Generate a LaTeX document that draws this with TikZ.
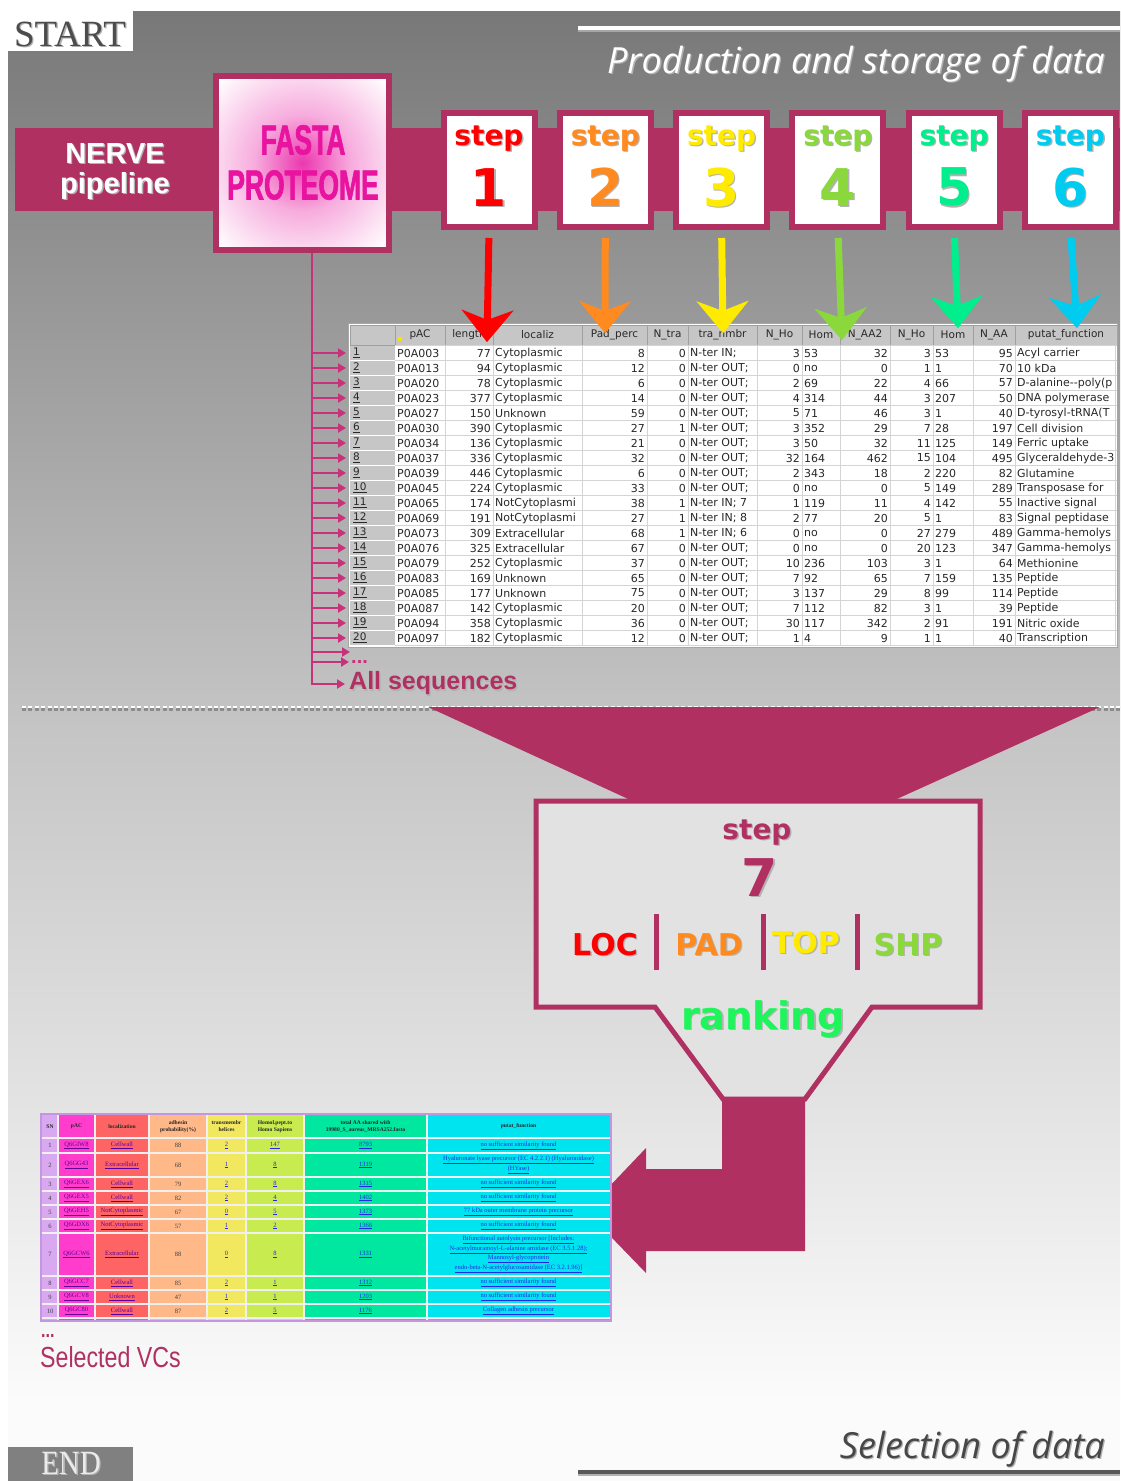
\documentclass[tikz,border=0pt]{standalone}
\usepackage{fontspec}
\setmainfont{DejaVu Sans}
\newfontfamily\tabfont{DejaVu Sans}
\newfontfamily\headfont{Liberation Sans}
\newfontfamily\impactfont[FakeStretch=0.63,FakeBold=1.5]{Liberation Sans}
\newfontfamily\narrowfont[FakeStretch=0.8]{Liberation Sans}
\newfontfamily\italfont{Open Sans}
\newfontfamily\startfont{Liberation Serif}
\newfontfamily\endfont[FakeStretch=0.85]{Liberation Serif}
\newfontfamily\vcfont{Liberation Serif}
\usepackage{xcolor}
\usetikzlibrary{arrows.meta, positioning, calc}

\definecolor{nerve}{RGB}{176,48,98}
\definecolor{spinepink}{RGB}{200,50,122}
\definecolor{fastapink}{RGB}{232,20,160}
\definecolor{stepA}{RGB}{255,0,0}
\definecolor{stepB}{RGB}{255,138,32}
\definecolor{stepC}{RGB}{255,235,0}
\definecolor{stepD}{RGB}{138,216,60}
\definecolor{stepE}{RGB}{0,238,140}
\definecolor{stepF}{RGB}{0,204,240}
\definecolor{rankgreen}{RGB}{30,245,90}
\definecolor{bgtop}{RGB}{120,120,120}
\definecolor{bgmid}{RGB}{195,195,195}
\definecolor{bgbot}{RGB}{251,251,251}
\definecolor{boxgray}{RGB}{226,226,226}
\definecolor{hdrgray}{RGB}{198,198,198}
\definecolor{gridgray}{RGB}{212,212,212}
\definecolor{txtgray}{RGB}{40,40,40}
\definecolor{vcsn}{RGB}{216,168,240}
\definecolor{vcpac}{RGB}{255,60,204}
\definecolor{vcloc}{RGB}{255,100,100}
\definecolor{vcadh}{RGB}{255,184,136}
\definecolor{vchel}{RGB}{242,232,96}
\definecolor{vchum}{RGB}{200,236,80}
\definecolor{vctot}{RGB}{0,232,160}
\definecolor{vcfun}{RGB}{0,228,240}
\definecolor{vclink}{RGB}{40,40,230}
\definecolor{vcedge}{RGB}{196,150,226}
\colorlet{glowA}{fastapink!85!white}
\colorlet{glowB}{fastapink!35!white}
\pgfdeclareradialshading{fastaglow}{\pgfpointorigin}{color(0bp)=(glowA); color(14bp)=(glowB); color(34bp)=(white); color(50bp)=(white)}

\newcommand\shd[1]{\rlap{\kern1.3pt\raisebox{-1.3pt}{\color{black!30}#1}}#1}
\newcommand\lnk[1]{\underline{#1}}

\tikzset{
  band/.style={fill=nerve},
  stepbox/.style={draw=nerve, line width=6pt, fill=white,
    minimum width=91pt, minimum height=114pt, inner sep=0pt},
  fastabox/.style={draw=nerve, line width=6pt, shade, shading=fastaglow,
    minimum width=173pt, minimum height=174pt, inner sep=0pt},
  steptext/.style={font=\fontsize{28}{28}\selectfont\bfseries, inner sep=0pt},
  stepnum/.style={font=\fontsize{52}{52}\selectfont\bfseries, inner sep=0pt},
  steparrow/.style={line width=7pt, shorten <=8pt,
    -{Stealth[length=32pt, width=52pt, inset=10pt, line width=0.1pt]}},
  rowarrow/.style={draw=spinepink, line width=2.2pt, shorten >=4pt,
    -{Triangle[length=8pt, width=9pt]}},
  hdrcell/.style={fill=hdrgray, draw=gray!75, line width=0.6pt, inner sep=0pt,
    minimum height=20pt, text=txtgray, font=\tabfont\fontsize{10.5}{10.5}\selectfont},
  rownum/.style={anchor=west, fill=hdrgray, text width=39pt, minimum height=14pt,
    inner xsep=3pt, inner ysep=0pt, text=txtgray, font=\tabfont\fontsize{10.5}{10.5}\selectfont},
  tl/.style={anchor=west, inner sep=0pt, text=txtgray, font=\tabfont\fontsize{11}{11}\selectfont},
  tr/.style={tl, anchor=east},
  codeword/.style={font=\fontsize{30}{30}\selectfont\bfseries, inner sep=0pt},
  sepbar/.style={draw=nerve, line width=5pt},
  vcgrid/.style={draw=white!88!gray, line width=1.6pt},
  vchead/.style={font=\vcfont\bfseries\fontsize{5.6}{7}\selectfont, align=center, inner sep=0pt, text=black!85},
  vccell/.style={font=\vcfont\fontsize{6.5}{9.5}\selectfont, align=center, inner sep=0pt, text=black!75},
  vclinks/.style={vccell, text=vclink},
}

\begin{document}
\begin{tikzpicture}[x=1pt, y=-1pt]
\useasboundingbox (0,0) rectangle (1120,1481);
\fill[white] (0,0) rectangle (1120,1481);
% backgrounds of the two halves
\shade[top color=bgtop, bottom color=bgmid] (8,11) rectangle (1120,707);
\shade[top color=bgmid, bottom color=bgbot] (8,707) rectangle (1120,1400);
\fill[bgbot] (8,1400) rectangle (1120,1481);

% START corner and title
\node[fill=white, minimum width=125pt, minimum height=40pt, inner sep=0pt] (start) at (70.5,30.5) {};
\node[anchor=base, inner sep=0pt, text=black!70, font=\startfont\fontsize{37}{37}\selectfont] (starttxt) at (70,46) {\shd{START}};
\draw[black!35, line width=2pt] (578,31) -- (1120,31);
\draw[white, line width=3.5pt] (578,28) -- (1120,28);
\node[anchor=base east, inner sep=0pt, text=white, font=\italfont\itshape\fontsize{36}{36}\selectfont] (prodtitle) at (1105,73) {\shd{Production and storage of data}};

% pipeline band
\fill[band] (15,128) rectangle (1120,211);
\node[align=center, text=white, inner sep=0pt, font=\headfont\bfseries\fontsize{29}{30}\selectfont] (nerve) at (115,172) {\shd{NERVE}\\\shd{pipeline}};
\node[fastabox] (fasta) at (302.5,163) {};
\node[inner sep=0pt, text=fastapink, font=\impactfont\bfseries\fontsize{42}{42}\selectfont] (fastatxt) at (303,140) {FASTA};
\node[inner sep=0pt, text=fastapink, font=\impactfont\bfseries\fontsize{42}{42}\selectfont] (proteome) at (303,185) {PROTEOME};

\foreach \i/\c in {1/stepA,2/stepB,3/stepC,4/stepD,5/stepE,6/stepF}{
  \node[stepbox] (s\i) at ({489+116.3*(\i-1)},170) {};
  \node[steptext, text=\c] (sl\i) at ([yshift=31pt]s\i.center) {\shd{step}};
  \node[stepnum, text=\c] (sn\i) at ([yshift=-18pt]s\i.center) {\shd{\i}};
}

% table of all sequences
\begin{scope}
\clip (348,323) rectangle (1117,647);
\fill[white] (348,323) rectangle (1117,647);
\foreach \xa/\xb/\hd [count=\j] in {350/395/{},395/445/pAC,445/493/length,493/582/localiz,
    582/647/Pad\_perc,647/688/N\_tra,688/757/tra\_nmbr,757/802/N\_Ho,802/840/Hom,
    840/890/N\_AA2,890/933/N\_Ho,933/973/Hom,973/1015/N\_AA,1015/1117/putat\_function}
  \node[hdrcell, minimum width={\xb-\xa}] (h\j) at ({(\xa+\xb)/2},335) {\hd};
\fill[yellow!85!orange] (400,339) circle (2.3pt);
\foreach \i in {0,...,20}
  \draw[gridgray, line width=0.8pt] (395,{345.5+15*\i}) -- (1117,{345.5+15*\i});
\foreach \xx in {445,493,582,647,688,757,802,840,890,933,973,1015,1115}
  \draw[gridgray, line width=0.8pt] (\xx,345.5) -- (\xx,645.5);
\foreach \rw/\pac/\len/\loc/\pad/\ntr/\tra/\nha/\ha/\naa/\nhb/\hb/\nab/\fn in {
  1/P0A003/77/Cytoplasmic/8/0/N-ter IN;/3/53/32/3/53/95/Acyl carrier,
  2/P0A013/94/Cytoplasmic/12/0/N-ter OUT;/0/no/0/1/1/70/10 kDa,
  3/P0A020/78/Cytoplasmic/6/0/N-ter OUT;/2/69/22/4/66/57/D-alanine-{}-poly(p,
  4/P0A023/377/Cytoplasmic/14/0/N-ter OUT;/4/314/44/3/207/50/DNA polymerase,
  5/P0A027/150/Unknown/59/0/N-ter OUT;/5/71/46/3/1/40/D-tyrosyl-tRNA(T,
  6/P0A030/390/Cytoplasmic/27/1/N-ter OUT;/3/352/29/7/28/197/Cell division,
  7/P0A034/136/Cytoplasmic/21/0/N-ter OUT;/3/50/32/11/125/149/Ferric uptake,
  8/P0A037/336/Cytoplasmic/32/0/N-ter OUT;/32/164/462/15/104/495/Glyceraldehyde-3,
  9/P0A039/446/Cytoplasmic/6/0/N-ter OUT;/2/343/18/2/220/82/Glutamine,
  10/P0A045/224/Cytoplasmic/33/0/N-ter OUT;/0/no/0/5/149/289/Transposase for,
  11/P0A065/174/NotCytoplasmi/38/1/N-ter IN; 7/1/119/11/4/142/55/Inactive signal,
  12/P0A069/191/NotCytoplasmi/27/1/N-ter IN; 8/2/77/20/5/1/83/Signal peptidase,
  13/P0A073/309/Extracellular/68/1/N-ter IN; 6/0/no/0/27/279/489/Gamma-hemolys,
  14/P0A076/325/Extracellular/67/0/N-ter OUT;/0/no/0/20/123/347/Gamma-hemolys,
  15/P0A079/252/Cytoplasmic/37/0/N-ter OUT;/10/236/103/3/1/64/Methionine,
  16/P0A083/169/Unknown/65/0/N-ter OUT;/7/92/65/7/159/135/Peptide,
  17/P0A085/177/Unknown/75/0/N-ter OUT;/3/137/29/8/99/114/Peptide,
  18/P0A087/142/Cytoplasmic/20/0/N-ter OUT;/7/112/82/3/1/39/Peptide,
  19/P0A094/358/Cytoplasmic/36/0/N-ter OUT;/30/117/342/2/91/191/Nitric oxide,
  20/P0A097/182/Cytoplasmic/12/0/N-ter OUT;/1/4/9/1/1/40/Transcription}{
  \pgfmathsetmacro\ry{353+15*(\rw-1)}
  \node[rownum] (r\rw) at (350,\ry) {\underline{\rw}};
  \node[tl] (pac\rw) at (397,\ry) {\pac};
  \node[tr] (len\rw) at (491,\ry) {\len};
  \node[tl] (loc\rw) at (495,\ry) {\loc};
  \node[tr] (pad\rw) at (645,\ry) {\pad};
  \node[tr] (ntr\rw) at (686,\ry) {\ntr};
  \node[tl] (tra\rw) at (690,\ry) {\tra};
  \node[tr] (nha\rw) at (800,\ry) {\nha};
  \node[tl] (ha\rw) at (804,\ry) {\ha};
  \node[tr] (naa\rw) at (888,\ry) {\naa};
  \node[tr] (nhb\rw) at (931,\ry) {\nhb};
  \node[tl] (hb\rw) at (935,\ry) {\hb};
  \node[tr] (nab\rw) at (1013,\ry) {\nab};
  \node[tl] (fn\rw) at (1017,\ry) {\fn};
}
\end{scope}
\draw[gray!70, line width=1pt] (348,323) rectangle (1117,647);

% every sequence goes into the table
\coordinate (spine) at ([xshift=9.5pt]fasta.south);
\coordinate (blankrow) at (350,652);
\node[anchor=west, inner sep=0pt, text=spinepink, font=\headfont\bfseries\fontsize{20}{20}\selectfont] (moredots) at (351,662) {...};
\node[anchor=west, inner sep=0pt, text=nerve, font=\headfont\bfseries\fontsize{25}{25}\selectfont] (allseq) at (349,684) {\shd{All sequences}};
\draw[rowarrow] (spine) |- (allseq.west);
\foreach \rw in {1,...,20}
  \draw[rowarrow] (spine |- r\rw.west) -- (r\rw.west);
\draw[rowarrow, shorten >=0pt] (spine |- blankrow) -- (blankrow);
\draw[rowarrow, shorten >=2pt] (spine |- moredots.west) -- (moredots.west);

% each step fills its own columns
\foreach \i/\c/\tx/\ty in {1/stepA/487/342,2/stepB/605/333,3/stepC/723/333,
    4/stepD/842/340,5/stepE/958/328,6/stepF/1077/328}{
  \coordinate (tip\i) at (\tx,\ty);
  \draw[steparrow, \c] (s\i.south) -- (tip\i);
}

% border between production and selection
\draw[black!45, line width=3pt, dash pattern=on 4pt off 2.4pt] (22,709) -- (1120,709);
\draw[white, line width=2.6pt, dash pattern=on 4pt off 2.4pt] (22,707) -- (1120,707);

% funnel into step 7
\fill[nerve] (428,707) -- (1100,707) -- (888,803) -- (637,803) -- cycle;
\draw[nerve, line width=5pt, fill=boxgray, line join=miter]
  (536,801) -- (980,801) -- (980,1007) -- (872,1007) -- (805,1099)
  -- (723,1099) -- (655,1007) -- (536,1007) -- cycle;
\node[steptext, text=nerve] (sl7) at (757,833) {\shd{step}};
\node[stepnum, text=nerve] (sn7) at (760,878) {\shd{7}};
\node[codeword, text=stepA] (loc) at (605,945) {\shd{LOC}};
\node[codeword, text=stepB] (pad) at (709,945) {\shd{PAD}};
\node[codeword, text=stepC] (top) at (806,943) {\shd{TOP}};
\node[codeword, text=stepD] (shp) at (908,945) {\shd{SHP}};
\draw[sepbar] (656,914) -- (656,970);
\draw[sepbar] (763,914) -- (763,970);
\draw[sepbar] (857,914) -- (857,970);
\node[inner sep=0pt, text=rankgreen, font=\fontsize{38}{38}\selectfont\bfseries] (ranking) at (763,1020) {\shd{ranking}};

% bent arrow to the selected table
\fill[nerve] (722,1097) -- (805,1097) -- (805,1251) -- (646,1251) -- (646,1273)
  -- (586,1211) -- (646,1148) -- (646,1169) -- (722,1169) -- cycle;

% table of selected VCs
\foreach \xa/\xb/\cc in {42/58/vcsn,58/95/vcpac,95/149/vcloc,149/207/vcadh,
    207/246/vchel,246/304/vchum,304/427/vctot,427/610/vcfun}
  \fill[\cc] (\xa,1115) rectangle (\xb,1321);
\foreach \yy in {1138,1153,1177,1191,1205,1219,1233,1276,1290,1304,1318}
  \draw[vcgrid] (42,\yy) -- (610,\yy);
\foreach \xx in {58,95,149,207,246,304,427}
  \draw[vcgrid] (\xx,1115) -- (\xx,1321);
\draw[vcedge, line width=1.5pt] (41,1114) rectangle (611,1321);
\node[vchead] (vh1) at (50,1126.5) {SN};
\node[vchead] (vh2) at (76.5,1126.5) {pAC};
\node[vchead] (vh3) at (122,1126.5) {localization};
\node[vchead] (vh4) at (178,1126.5) {adhesin\\probability(\%)};
\node[vchead] (vh5) at (226.5,1126.5) {transmembr\\helices};
\node[vchead] (vh6) at (275,1126.5) {Homol.pept.to\\Homo Sapiens};
\node[vchead] (vh7) at (365.5,1126.5) {total AA shared with\\19980\_S\_aureus\_MRSA252.fasta};
\node[vchead] (vh8) at (518.5,1126.5) {putat\_function};
\foreach \n/\yy/\pac/\loc/\adh/\hel/\hum/\tot in {
  1/1145.5/Q6GIW8/Cellwall/88/2/147/8793,
  2/1165/Q6GG43/Extracellular/68/1/8/1319,
  3/1184/Q6GEX6/Cellwall/79/2/8/1315,
  4/1198/Q6GEX5/Cellwall/82/2/4/1402,
  5/1212/Q6GEH5/NotCytoplasmic/67/0/5/1373,
  6/1226/Q6GDX6/NotCytoplasmic/57/1/2/1366,
  7/1254.5/Q6GCW6/Extracellular/88/0/8/1331,
  8/1283/Q6GCC7/Cellwall/85/2/1/1312,
  9/1297/Q6GCV8/Unknown/47/1/1/1203,
  10/1311/Q6GC80/Cellwall/87/2/5/1176}{
  \node[vccell] (vsn\n) at (50,\yy) {\n};
  \node[vclinks, text=violet!80!blue] (vpac\n) at (76.5,\yy) {\lnk{\pac}};
  \node[vclinks, text=violet!70!blue] (vloc\n) at (122,\yy) {\lnk{\loc}};
  \node[vccell] (vadh\n) at (178,\yy) {\adh};
  \node[vclinks] (vhel\n) at (226.5,\yy) {\lnk{\hel}};
  \node[vclinks] (vhum\n) at (275,\yy) {\lnk{\hum}};
  \node[vclinks] (vtot\n) at (365.5,\yy) {\lnk{\tot}};
}
\foreach \n/\yy/\fn in {1/1145.5/no sufficient similarity found,
  3/1184/no sufficient similarity found,4/1198/no sufficient similarity found,
  5/1212/77 kDa outer membrane protein precursor,6/1226/no sufficient similarity found,
  8/1283/no sufficient similarity found,9/1297/no sufficient similarity found,
  10/1311/Collagen adhesin precursor}
  \node[vclinks] (vfn\n) at (518.5,\yy) {\lnk{\fn}};
\node[vclinks] (vfn2) at (518.5,1165) {\lnk{Hyaluronate lyase precursor (EC 4.2.2.1) (Hyaluronidase)}\\\lnk{(HYase)}};
\node[vclinks] (vfn7) at (518.5,1254.5) {\lnk{Bifunctional autolysin precursor [Includes:}\\\lnk{N-acetylmuramoyl-L-alanine amidase (EC 3.5.1.28);}\\\lnk{Mannosyl-glycoprotein}\\\lnk{endo-beta-N-acetylglucosamidase (EC 3.2.1.96)]}};
\node[anchor=west, inner sep=0pt, text=nerve, font=\narrowfont\bfseries\fontsize{20}{20}\selectfont] (vcdots) at (41,1336) {...};
\node[anchor=west, inner sep=0pt, text=nerve, font=\narrowfont\fontsize{29}{29}\selectfont] (vcsel) at (40,1357) {Selected VCs};

% END corner and bottom title
\node[anchor=base east, inner sep=0pt, text=black!72, font=\italfont\itshape\fontsize{36}{36}\selectfont] (seltitle) at (1105,1458) {\shd{Selection of data}};
\draw[black!30, line width=2pt] (578,1475) -- (1120,1475);
\draw[black!65, line width=3.5pt] (578,1472) -- (1120,1472);
\fill[black!50] (8,1447) rectangle (133,1481);
\node[anchor=base, inner sep=0pt, text=white!92!black, font=\endfont\fontsize{34}{34}\selectfont] (endtxt) at (71,1474) {\shd{END}};
\end{tikzpicture}
\end{document}
